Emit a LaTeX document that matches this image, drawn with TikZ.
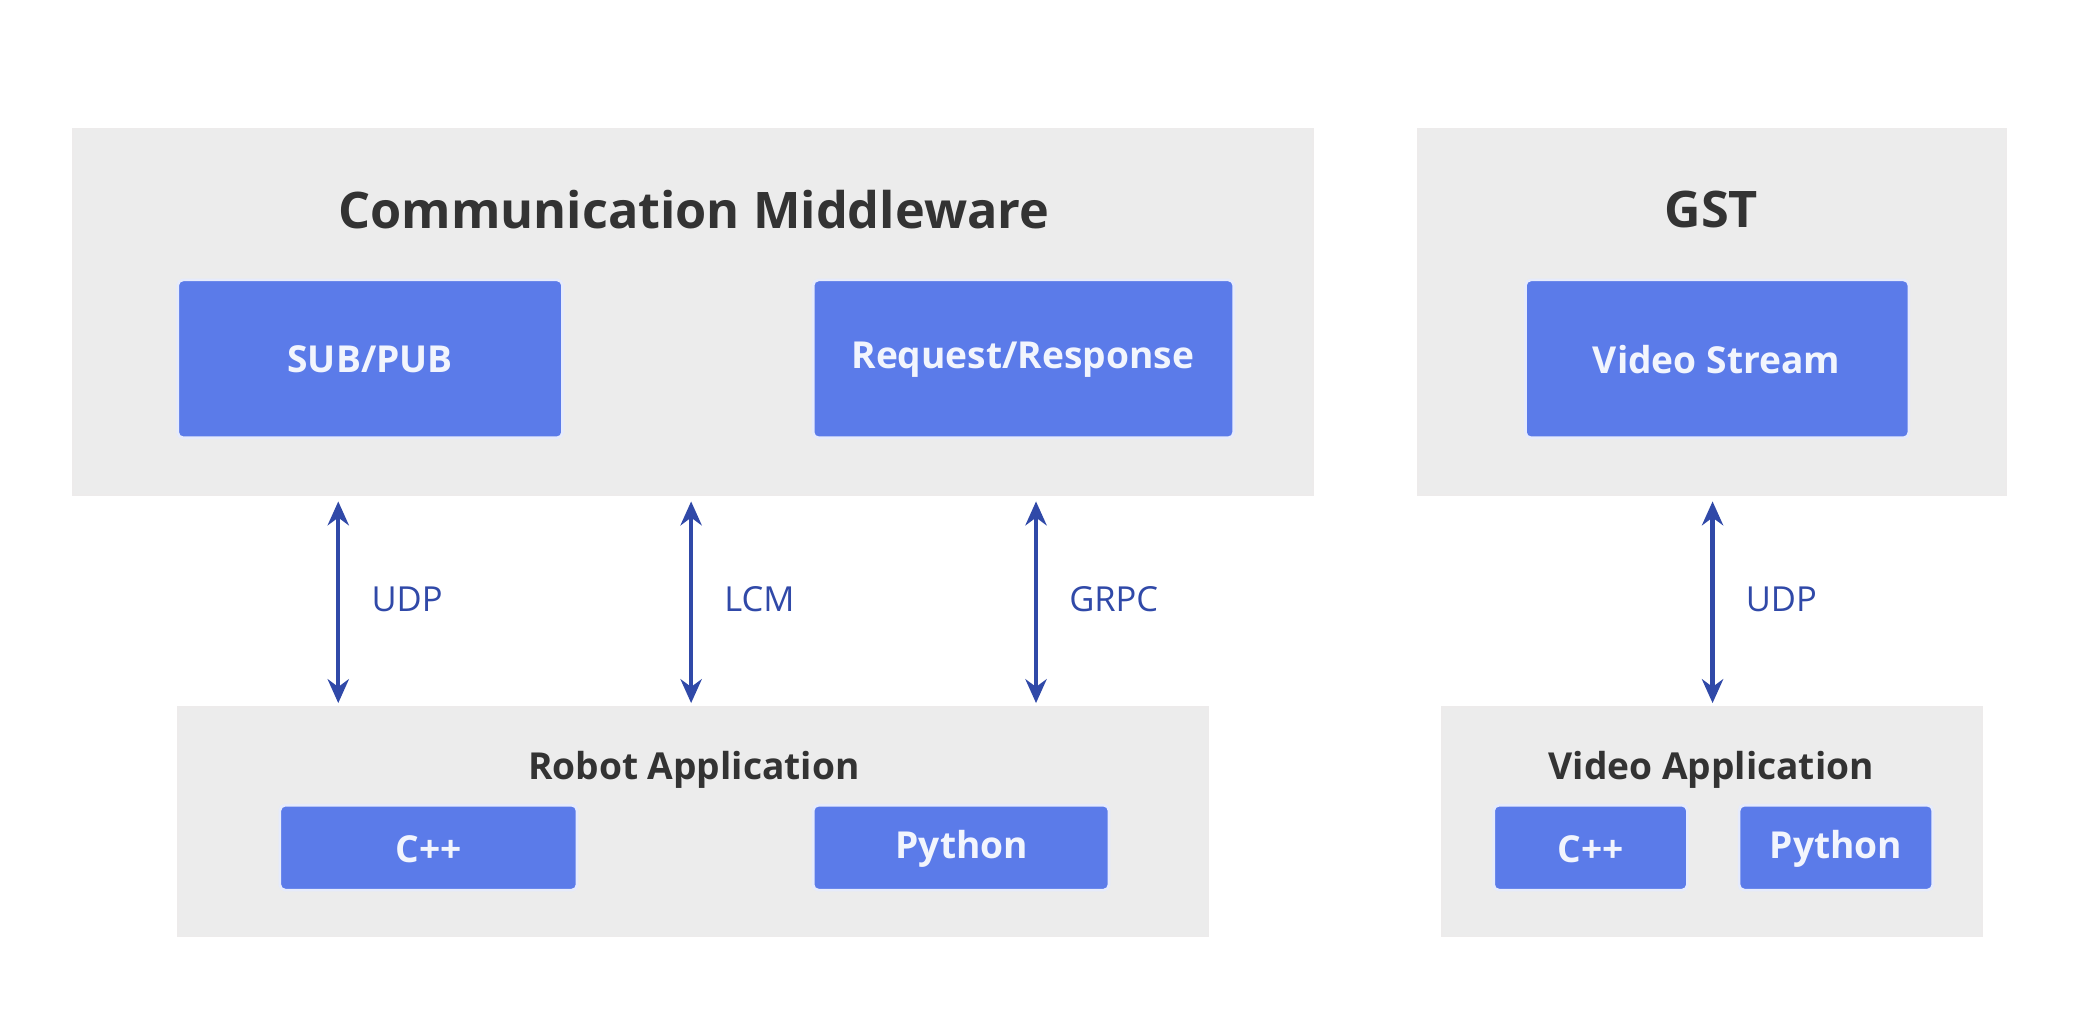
\documentclass[tikz,border=0pt]{standalone}
\usepackage{fontspec}
\setmainfont{Open Sans}
\begin{document}
\begin{tikzpicture}[x=0.5pt,y=-0.5pt,
  outer/.style={fill=gray!15!white,draw=red!4!gray!15!white,line width=0.6pt},
  inner/.style={fill=blue1,draw=white!85!blue1,line width=1pt,rounded corners=2pt},
  itext/.style={text=white!92!blue1,font=\fontsize{14}{16}\selectfont\bfseries},
  ttext/.style={text=black!80,font=\fontsize{19}{22}\selectfont\bfseries},
  stext/.style={text=black!80,font=\fontsize{14}{16}\selectfont\bfseries},
  lab/.style={text=arr,font=\fontsize{13}{15}\selectfont,anchor=west},
  con/.style={arr,line width=1.6pt,<->,>={Stealth[length=9pt,width=8pt]}}]
\definecolor{blue1}{HTML}{5B7BE9}
\definecolor{arr}{HTML}{3049A8}
\usetikzlibrary{arrows.meta}
\useasboundingbox (0,0) rectangle (1568,762);
\fill[white] (0,0) rectangle (1568,762);
% outer boxes
\draw[outer] (55,97) rectangle (990,373); \coordinate (cm) at (0,0);
\draw[outer] (1069,97) rectangle (1512,373);
\draw[outer] (134,533) rectangle (911,706);
\draw[outer] (1087,533) rectangle (1494,706);
\node[ttext] (cmt) at (523,158) {Communication Middleware};
\node[ttext] (gst) at (1290,158) {GST};
\node[stext] (ra) at (523,580) {Robot Application};
\node[stext] (va) at (1290,580) {Video Application};
% inner boxes
\draw[inner] (134,211) rectangle (424,330); \node[itext] (sp) at (279,271) {SUB/PUB};
\draw[inner] (613,211) rectangle (930,330); \node[itext] (rr) at (771,271) {Request/Response};
\draw[inner] (1150,211) rectangle (1439,330); \node[itext] (vs) at (1294,271) {Video Stream};
\draw[inner] (211,607) rectangle (435,671); \node[itext] (c1) at (323,640) {C++};
\draw[inner] (613,607) rectangle (836,671); \node[itext] (p1) at (725,640) {Python};
\draw[inner] (1126,607) rectangle (1272,671); \node[itext] (c2) at (1199,640) {C++};
\draw[inner] (1311,607) rectangle (1457,671); \node[itext] (p2) at (1384,640) {Python};
% arrows
\foreach \x/\n/\l in {255/a/UDP,521/b/LCM,781/c/GRPC,1291/d/UDP}{
  \coordinate (t\n) at (\x,378); \coordinate (b\n) at (\x,530);
  \draw[con] (t\n) -- (b\n);
  \node[lab] (l\n) at (\x+18,452) {\l};
}
\end{tikzpicture}
\end{document}
